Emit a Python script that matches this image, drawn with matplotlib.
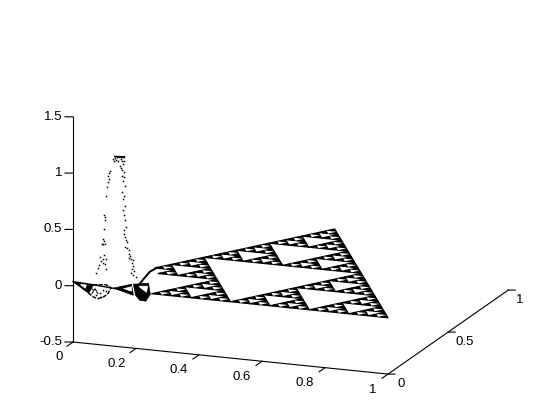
import numpy as np
import matplotlib
matplotlib.use("Agg")
import matplotlib.pyplot as plt
from mpl_toolkits.mplot3d import proj3d
from mpl_toolkits.mplot3d.art3d import Poly3DCollection

plt.rcParams['font.family'] = ['Liberation Sans', 'DejaVu Sans']

# flat part of the gasket: lower left corners of the small triangles, in 1/32 of the side
cell_u = [8, 10, 12, 14, 16, 18, 20, 22, 24, 26, 28, 30,
          8, 12, 16, 20, 24, 28,
          8, 10, 16, 18, 24, 26,
          8, 16, 24,
          2, 4, 6, 16, 18, 20, 22,
          0, 4, 16, 20,
          0, 2, 16, 18,
          0, 16,
          0, 2, 4, 6, 8, 10, 12, 14,
          0, 4, 8, 12,
          0, 2, 8, 10,
          0, 8,
          0, 2, 4, 6,
          0, 4,
          0, 2,
          0]
cell_v = [0] * 12 + [2] * 6 + [4] * 6 + [6] * 3 + [8] * 7 + [10] * 4 + [12] * 4 + [14] * 2 \
    + [16] * 8 + [18] * 4 + [20] * 4 + [22] * 2 + [24] * 4 + [26] * 2 + [28] * 2 + [30]

# scattered points of the spike
spike_x = [.127, .133, .140, .146, .152, .159, .162, .137, .152, .130, .143, .156, .162,
           .159, .149, .152, .156, .162, .117, .114, .111, .114, .111, .108, .105, .098,
           .156, .162, .159, .165, .156, .162, .159, .165, .159, .162, .165,
           .102, .102, .098, .095, .098, .095, .092, .102, .098, .086, .105, .095, .089,
           .095, .083, .079, .102, .105, .073,
           .168, .162, .162, .165, .168, .171, .165, .171, .178, .178, .181, .178, .184,
           .190, .187, .190, .187, .194, .184, .190, .200]
spike_z = [1.165, 1.176, 1.187, 1.188, 1.190, 1.192, 1.193, 1.159, 1.172, 1.148, 1.152, 1.156, 1.157,
           1.130, 1.109, 1.092, 1.076, 1.060, 1.056, 1.037, 1.010, .984, .956, .911, .830, .659,
           1.022, 1.015, .979, .936, .880, .846, .819, .758, .721, .677, .634,
           .643, .616, .534, .444, .428, .400, .399, .403, .303, .282, .270, .267, .247,
           .231, .210, .182, .225, .181, .136,
           .572, .544, .508, .483, .457, .440, .394, .387, .371, .335, .318, .300, .292,
           .285, .258, .232, .204, .188, .168, .152, .137]
# short bar along the top of the spike
crest_x = [.133, .162]
crest_z = [1.185, 1.190]

# left corner of the gasket, read as lines and filled pieces at y = 0
rim_x = [0, .063, .117, .171]
rim_z = [.036, .027, .016, .004]
blob_x = [.048, .063, .079, .098, .111, .121, .105, .063]
blob_z = [-.049, -.080, -.093, -.070, -.039, .017, .039, .027]
blob_dot_x = [.086, .095, .060, .073, .089, .105]
blob_dot_z = [-.038, -.009, -.010, -.060, -.073, -.014]
letter_x = [.060, .070, .079]
letter_z = [-.054, -.007, -.049]
ramp_x = [.200, .222, .244, .267]
ramp_z = [.030, .116, .194, .236]
wedge_x = [0, .063, .048]
wedge_z = [.036, .027, -.049]
wedge_hole_x = [.022, .041, .038]
wedge_hole_z = [.020, .025, -.007]
fin_x = [.127, .184, .190]
fin_z = [.019, .070, -.026]
fin_hole_x = [.159, .184, .184]
fin_hole_z = [.023, .048, .008]
knot_x = [.190, .238, .244, .229, .210, .197]
knot_z = [.072, .094, -.002, -.068, -.065, -.024]
knot_hole_x = [.206, .235, .232]
knot_hole_z = [.059, .067, .012]

x_ticks = [0, 0.2, 0.4, 0.6, 0.8, 1]
x_labels = ['0', '0.2', '0.4', '0.6', '0.8', '1']
y_ticks = [0, 0.5, 1]
y_labels = ['0', '0.5', '1']
z_ticks = [-0.5, 0, 0.5, 1, 1.5]
z_labels = ['-0.5', '0', '0.5', '1', '1.5']


def to_plane(u, v):
    return (u + v / 2) / 32, v * 0.866 / 32, 0


fig = plt.figure(figsize=(5.6, 4.2), dpi=100)
ax = fig.add_axes([0, 0, 1, 1], projection='3d')
ax.computed_zorder = False
ax.set_proj_type('ortho')
ax.view_init(elev=15.47, azim=-69.1)
ax.set_box_aspect((1, 1, 0.693))
ax.set_axis_off()

black = [[to_plane(u, v), to_plane(u + 2, v), to_plane(u, v + 2)] for u, v in zip(cell_u, cell_v)]
white = [[to_plane(u + 1, v), to_plane(u, v + 1), to_plane(u + 1, v + 1)] for u, v in zip(cell_u, cell_v)]
ax.add_collection3d(Poly3DCollection(black, facecolors='k', edgecolors='k', linewidths=0.9, zorder=1))
ax.add_collection3d(Poly3DCollection(white, facecolors='w', edgecolors='none', zorder=2))


def patch_at_y0(xs, zs, color, order):
    verts = [[(a, 0, b) for a, b in zip(xs, zs)]]
    ax.add_collection3d(Poly3DCollection(verts, facecolors=color, edgecolors=color, linewidths=0.5, zorder=order))


patch_at_y0(wedge_x, wedge_z, 'k', 3)
patch_at_y0(wedge_hole_x, wedge_hole_z, 'w', 4)
patch_at_y0(fin_x, fin_z, 'k', 3)
patch_at_y0(fin_hole_x, fin_hole_z, 'w', 4)
patch_at_y0(knot_x, knot_z, 'k', 3)
patch_at_y0(knot_hole_x, knot_hole_z, 'w', 4)
ax.plot(rim_x, np.zeros(4), rim_z, color='k', lw=1.0, zorder=5)
ax.plot(blob_x, np.zeros(8), blob_z, color='k', lw=1.0, ls=(0, (3, 1)), zorder=5)
ax.plot(letter_x, np.zeros(3), letter_z, color='k', lw=0.7, zorder=5)
ax.plot(ramp_x, np.zeros(4), ramp_z, color='k', lw=1.4, zorder=5)
ax.plot(crest_x, [0, 0], crest_z, color='k', lw=1.2, zorder=5)
ax.plot(spike_x, np.zeros(len(spike_x)), spike_z, ls='none', marker='s', ms=1.1, mew=0, color='k', zorder=5)
ax.plot(blob_dot_x, np.zeros(6), blob_dot_z, ls='none', marker='s', ms=1.1, mew=0, color='k', zorder=5)

# box edges and ticks
ax_kw = dict(color='k', lw=0.8, zorder=6)
ax.plot([0, 0], [0, 0], [-0.5, 1.5], **ax_kw)
ax.plot([0, 1], [0, 0], [-0.5, -0.5], **ax_kw)
ax.plot([1, 1], [0, 1], [-0.5, -0.5], **ax_kw)
for t in x_ticks:
    ax.plot([t, t], [0, -0.05], [-0.5, -0.5], **ax_kw)
for t in y_ticks:
    ax.plot([1, 1.0194], [t, t + 0.0074], [-0.5, -0.5], **ax_kw)
for t in z_ticks:
    ax.plot([0, -0.0222], [0, -0.0085], [t, t], **ax_kw)

ax.set_xlim(0, 1)
ax.set_ylim(0, 1)
ax.set_zlim(-0.5, 1.5)


def screen(x, y, z):
    xp, yp, _ = proj3d.proj_transform(x, y, z, ax.get_proj())
    return ax.transData.transform((xp, yp))


# fit the axes so the box corner and x edge land where they are in the picture
fig.canvas.draw()
p0 = screen(0, 0, -0.5)
p1 = screen(1, 0, -0.5)
box = ax.get_position()
scale = 315 / (p1[0] - p0[0])
left = 73 - (p0[0] - box.x0 * 560) * scale
bottom = 78 - (p0[1] - box.y0 * 420) * scale
size = box.width * 560 * scale
ax.set_position([left / 560, bottom / 420, size / 560, size / 420])
fig.canvas.draw()


def tick_label(x, y, z, s, dx, dy, ha='center'):
    px, py = screen(x, y, z)
    fig.text((px + dx) / 560, (py + dy) / 420, s, fontsize=9.5, ha=ha, va='center')


for t, s, dx in zip(x_ticks, x_labels, [-14, -19, -20, -20, -20, -15]):
    tick_label(t, 0, -0.5, s, dx, -15.5)
for t, s, dx in zip(y_ticks, y_labels, [13, 17, 11]):
    tick_label(1, t, -0.5, s, dx, -10)
for t, s in zip(z_ticks, z_labels):
    tick_label(0, 0, t, s, -11, 0, ha='right')

fig.savefig('out.png', dpi=100, facecolor='white')
